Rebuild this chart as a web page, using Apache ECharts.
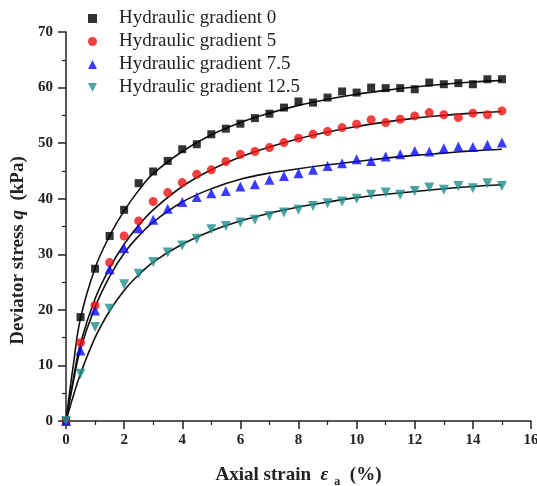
<!DOCTYPE html>
<html><head><meta charset="utf-8">
<script src="https://cdn.jsdelivr.net/npm/echarts@6/dist/echarts.min.js"></script>
<style>html,body{margin:0;padding:0;background:#fff}#c{width:537px;height:486px}</style>
</head><body><div id="c"></div>
<script>
const strain = [0,0.5,1,1.5,2,2.5,3,3.5,4,4.5,5,5.5,6,6.5,7,7.5,8,8.5,9,9.5,10,10.5,11,11.5,12,12.5,13,13.5,14,14.5,15];
const g0   = [0,18.7,27.4,33.3,38.0,42.8,44.9,46.8,48.9,49.8,51.6,52.6,53.5,54.5,55.3,56.4,57.5,57.3,58.2,59.3,59.1,60.0,59.9,59.9,59.7,60.9,60.6,60.8,60.6,61.5,61.5];
const g5   = [0,14.1,20.8,28.5,33.3,36.0,39.5,41.1,42.9,44.4,45.2,46.7,48.0,48.5,49.2,50.1,50.9,51.6,52.1,52.8,53.4,54.2,53.7,54.3,54.9,55.5,55.1,54.6,55.4,55.1,55.8];
const g75  = [0,12.7,19.9,27.3,31.1,34.7,36.2,38.2,39.4,40.3,41.0,41.4,42.2,42.6,43.4,44.1,44.6,45.2,45.9,46.4,47.1,46.8,47.6,48.0,48.6,48.5,49.1,49.4,49.3,49.7,50.1];
const g125 = [0,8.5,16.9,20.2,24.6,26.5,28.6,30.3,31.6,32.8,34.5,35.1,35.7,36.2,36.9,37.5,38.0,38.7,39.2,39.5,40.0,40.7,41.1,40.7,41.4,42.0,41.6,42.3,41.9,42.8,42.3];

const fitX    = [0,0.25,0.5,1,1.5,2,2.5,3,4,5,6,7,8,9,10,11,12,13,14,15];
const fit0    = [0,10,18.5,27.5,33.3,37.8,41.5,44.5,48.5,51.5,53.7,55.4,56.8,57.9,58.8,59.5,60.1,60.6,61.0,61.3];
const fit5    = [0,7.5,14,22,27.5,31.8,35.2,38.0,42.2,45.2,47.5,49.3,50.8,52.0,53.0,53.8,54.5,55.0,55.4,55.7];
const fit75   = [0,7,13,20.5,26,30.2,33.3,35.8,39.4,41.8,43.5,44.6,45.4,46.1,46.7,47.3,47.8,48.2,48.6,48.9];
const fit125  = [0,4.5,8.5,15,19.8,23.5,26.3,28.6,31.8,34.2,36.0,37.4,38.5,39.4,40.2,40.8,41.3,41.8,42.2,42.5];

const names = ['Hydraulic gradient 0','Hydraulic gradient 5','Hydraulic gradient 7.5','Hydraulic gradient 12.5'];
const xTicks = [0,2,4,6,8,10,12,14,16];
const yTicks = [0,10,20,30,40,50,60,70];

const pairs = (xs, ys) => xs.map((x,i)=>[x, ys[i]]);
const font = 'Liberation Serif';
const chart = echarts.init(document.getElementById('c'));
const scat = (name, ys, symbol, color, size, rot) => ({
  name, type:'scatter', data: pairs(strain, ys), symbol, symbolSize: size, symbolRotate: rot||0,
  itemStyle:{color}, z:3
});
const fit = ys => ({type:'line', data: pairs(fitX, ys), smooth:0.4, showSymbol:false, lineStyle:{color:'#111', width:1.6}, z:2, silent:true});
chart.setOption({
  animation:false,
  grid:{left:66, top:32, right:6, bottom:65, containLabel:false, outerBoundsMode:'none'},
  legend:{
    orient:'vertical', left:83, top:4, itemGap:4, itemWidth:9, itemHeight:9,
    textStyle:{fontFamily:font, fontSize:19, color:'#222', padding:[0,0,0,17]},
    data:[
      {name:names[0], icon:'rect', itemStyle:{color:'#000'}},
      {name:names[1], icon:'circle', itemStyle:{color:'#f01010'}},
      {name:names[2], icon:'triangle', itemStyle:{color:'#0a0aff'}},
      {name:names[3], icon:'path://M0,0 L10,0 L5,10 Z', itemStyle:{color:'#1f8f8c'}}
    ]
  },
  xAxis:{
    type:'value', min:0, max:16, interval:2,
    axisLine:{show:true, lineStyle:{color:'#222', width:1.5}},
    axisTick:{show:true, length:8, lineStyle:{color:'#222', width:1.5}},
    minorTick:{show:true, splitNumber:2, length:4, lineStyle:{color:'#222', width:1.2}},
    splitLine:{show:false},
    axisLabel:{fontFamily:font, fontWeight:'bold', fontSize:15, color:'#222', margin:12,
      formatter: v => xTicks.includes(v) ? String(v) : ''},
    name:'{n|Axial strain  }{e|ε}{s|  a}{n|  (%)}', nameLocation:'middle', nameGap:41,
    nameTextStyle:{rich:{
      n:{fontFamily:font, fontWeight:'bold', fontSize:19, color:'#222'},
      e:{fontFamily:font, fontWeight:'bold', fontStyle:'italic', fontSize:19, color:'#222'},
      s:{fontFamily:font, fontWeight:'bold', fontSize:12, color:'#222', padding:[14,0,0,0]}
    }}
  },
  yAxis:{
    type:'value', min:0, max:70, interval:10,
    axisLine:{show:true, lineStyle:{color:'#222', width:1.5}},
    axisTick:{show:true, length:8, lineStyle:{color:'#222', width:1.5}},
    minorTick:{show:true, splitNumber:2, length:4, lineStyle:{color:'#222', width:1.2}},
    splitLine:{show:false},
    axisLabel:{fontFamily:font, fontWeight:'bold', fontSize:15, color:'#222', margin:13,
      formatter: v => yTicks.includes(v) ? String(v) : ''},
    name:'{n|Deviator stress }{q|q}{n|  (kPa)}', nameLocation:'middle', nameGap:38, nameRotate:90,
    nameTextStyle:{padding:[0,48,0,0], rich:{
      n:{fontFamily:font, fontWeight:'bold', fontSize:19, color:'#222'},
      q:{fontFamily:font, fontWeight:'bold', fontStyle:'italic', fontSize:19, color:'#222'}
    }}
  },
  series:[
    fit(fit0), fit(fit5), fit(fit75), fit(fit125),
    scat(names[0], g0, 'rect', '#000', 8),
    scat(names[1], g5, 'circle', '#f01010', 9),
    scat(names[2], g75, 'triangle', '#0a0aff', 10),
    scat(names[3], g125, 'triangle', '#1f8f8c', 10, 180)
  ]
});
</script></body></html>
